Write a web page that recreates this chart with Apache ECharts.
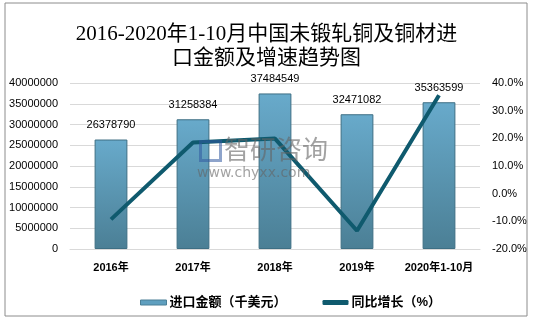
<!DOCTYPE html>
<html><head><meta charset="utf-8">
<script src="https://cdn.jsdelivr.net/npm/echarts@6/dist/echarts.min.js"></script>
<style>html,body{margin:0;padding:0;background:#fff}#c{width:533px;height:322px}</style>
</head><body><div id="c"></div>
<script>
const categories = ['2016年','2017年','2018年','2019年','2020年1-10月'];
const importValues = [26378790, 31258384, 37484549, 32471082, 35363599];
const growthValues = [-9.3, 18.5, 19.9, -13.4, 35.6];
const leftTicks = {min: 0, max: 40000000, interval: 5000000};
const rightTicks = {min: -20, max: 40, interval: 10};

const chart = echarts.init(document.getElementById('c'));
const labelFont = 'Liberation Sans, Noto Sans CJK SC, sans-serif';
chart.setOption({
  animation: false,
  title: {
    text: '2016-2020年1-10月中国未锻轧铜及铜材进\n口金额及增速趋势图',
    left: 'center', top: 17,
    textStyle: {fontFamily: 'Liberation Serif, Noto Sans CJK SC, serif', fontSize: 21, fontWeight: 'normal', color: '#000', lineHeight: 24}
  },
  graphic: [
    {type: 'rect', shape: {x: 5, y: 3, width: 522, height: 313}, style: {fill: 'none', stroke: '#8c8c8c', lineWidth: 1}, z: 0},
    {type: 'text', left: 224, top: 136, z: 10, style: {text: '智研咨询', fontSize: 26, fontFamily: 'Noto Sans CJK SC', fill: 'rgba(100,100,100,0.6)'}},
    {type: 'text', left: 197, top: 166, z: 10, style: {text: 'www.chyxx.com', fontSize: 14, fontFamily: 'DejaVu Sans', fill: 'rgba(100,100,100,0.6)', letterSpacing: 2}},
    {type: 'rect', left: 198, top: 139, z: 10, shape: {width: 20, height: 19}, style: {fill: 'none', stroke: 'rgba(50,90,160,0.55)', lineWidth: 3}}
  ],
  legend: {
    top: 291, left: 135, itemGap: 36,
    textStyle: {fontFamily: labelFont, fontSize: 13, fontWeight: 'bold', color: '#000', padding: [0, 0, 0, -2]},
    data: [
      {name: '进口金额（千美元）', icon: 'rect', itemStyle: {color: '#5f9fbf', borderColor: '#4a7f96', borderWidth: 1}},
      {name: '同比增长（%）', icon: 'roundRect', itemStyle: {color: '#0f5a6e'}}
    ],
    itemWidth: 26, itemHeight: 5
  },
  grid: {left: 70, right: 53, top: 83, bottom: 73},
  xAxis: {
    type: 'category', data: categories,
    axisLine: {lineStyle: {color: '#d9d9d9'}}, axisTick: {show: false},
    axisLabel: {interval: 0, fontFamily: labelFont, fontSize: 11, fontWeight: 'bold', color: '#000', margin: 13}
  },
  yAxis: [
    {type: 'value', min: leftTicks.min, max: leftTicks.max, interval: leftTicks.interval,
     axisLabel: {fontFamily: labelFont, fontSize: 11, color: '#000', margin: 12, formatter: v => String(v)},
     splitLine: {lineStyle: {color: '#d9d9d9'}}, axisLine: {show: false}, axisTick: {show: false}},
    {type: 'value', min: rightTicks.min, max: rightTicks.max, interval: rightTicks.interval,
     axisLabel: {fontFamily: labelFont, fontSize: 11, color: '#000', margin: 12, formatter: v => v.toFixed(1) + '%'},
     splitLine: {show: false}, axisLine: {show: false}, axisTick: {show: false}}
  ],
  series: [
    {name: '进口金额（千美元）', type: 'bar', data: importValues, barWidth: '40%', z: 2,
     itemStyle: {color: new echarts.graphic.LinearGradient(0, 0, 0, 1, [
       {offset: 0, color: '#68aacb'}, {offset: 1, color: '#4b7f95'}]), borderColor: '#3e6f84', borderWidth: 1},
     label: {show: true, position: 'top', distance: 9, fontFamily: labelFont, fontSize: 11, color: '#000'}},
    {name: '同比增长（%）', type: 'line', yAxisIndex: 1, data: growthValues, z: 3,
     symbol: 'none', lineStyle: {color: '#0f5a6e', width: 4}, itemStyle: {color: '#0f5a6e'}}
  ]
});
</script></body></html>
